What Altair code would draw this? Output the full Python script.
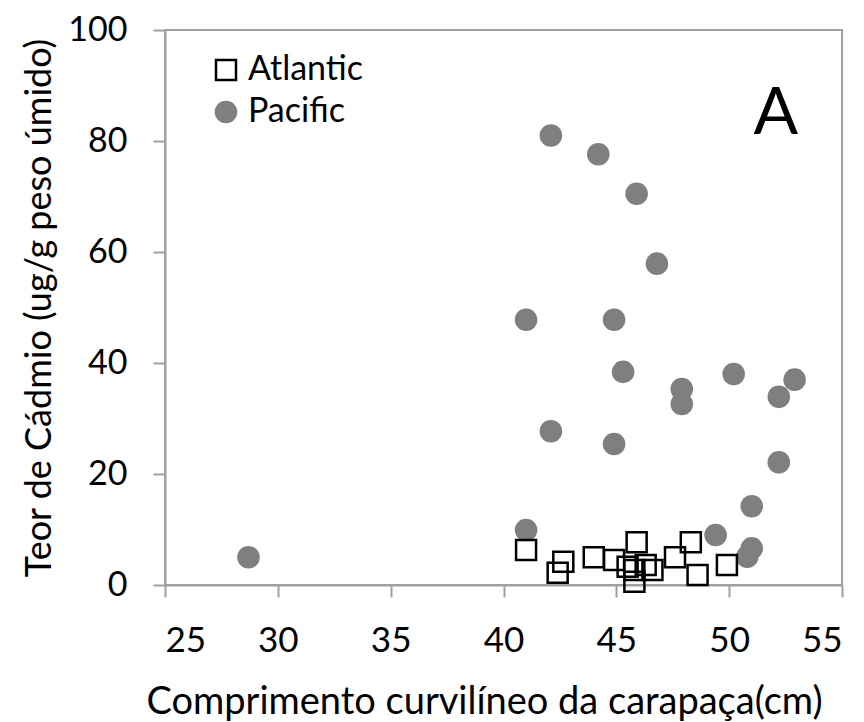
import altair as alt
import pandas as pd

# Pacific (circles)
pac_x = [42.1, 44.2, 45.9, 46.8, 41.0, 44.9, 45.3, 47.9, 47.9, 50.2, 52.9, 52.2,
         42.1, 44.9, 52.2, 51.0, 41.0, 49.4, 51.0, 50.8, 28.7]
pac_y = [81.0, 77.6, 70.5, 57.9, 47.8, 47.8, 38.4, 35.3, 32.6, 38.0, 37.0, 33.9,
         27.7, 25.4, 22.1, 14.2, 9.9, 9.0, 6.6, 5.1, 5.0]
# Atlantic (squares)
atl_x = [41.0, 42.65, 42.4, 44.0, 44.9, 45.9, 45.5, 45.8, 45.8, 46.3, 46.6, 47.6,
         48.3, 48.6, 49.9]
atl_y = [6.3, 4.2, 2.2, 5.0, 4.5, 7.7, 3.3, 2.7, 0.6, 3.6, 2.7, 5.0, 7.7, 1.8, 3.6]

groups = ["Atlantic", "Pacific"]
panel_label = ["A"]
panel_x = [52.07]
panel_y = [81.3]

FONT = "Lato"
AXIS_COLOR = "#a0a0a0"

df = pd.DataFrame({
    "x": pac_x + atl_x,
    "y": pac_y + atl_y,
    "ocean": ["Pacific"] * len(pac_x) + ["Atlantic"] * len(atl_x),
    "order": [0] * len(pac_x) + [1] * len(atl_x),
})

xscale = alt.Scale(domain=[25, 55], nice=False, zero=False)
yscale = alt.Scale(domain=[0, 100], nice=False)

leg = alt.Legend(title=None, orient="none", legendX=44, legendY=23)

points = alt.Chart(df).mark_point(opacity=1, strokeWidth=2.5).encode(
    x=alt.X("x:Q", scale=xscale,
            axis=alt.Axis(title="Comprimento curvilíneo da carapaça(cm)",
                          values=[25, 30, 35, 40, 45, 50, 55],
                          titleX=319, titleFontSize=38, titlePadding=25,
                          labelFontSize=35)),
    y=alt.Y("y:Q", scale=yscale,
            axis=alt.Axis(title="Teor de Cádmio (ug/g peso úmido)",
                          values=[0, 20, 40, 60, 80, 100],
                          titleFontSize=36, titlePadding=9,
                          labelFontSize=34)),
    shape=alt.Shape("ocean:N", scale=alt.Scale(domain=groups, range=["square", "circle"]), legend=leg),
    fill=alt.Fill("ocean:N", scale=alt.Scale(domain=groups, range=["transparent", "#7f7f7f"]), legend=leg),
    stroke=alt.Stroke("ocean:N", scale=alt.Scale(domain=groups, range=["black", "transparent"]), legend=leg),
    size=alt.Size("ocean:N", scale=alt.Scale(domain=groups, range=[400, 510]), legend=leg),
    order=alt.Order("order:Q"),
)

ann = alt.Chart(pd.DataFrame({"t": panel_label, "x": panel_x, "y": panel_y})).mark_text(
    font=FONT, fontSize=66, color="black", align="center", baseline="alphabetic"
).encode(
    x=alt.X("x:Q", scale=xscale),
    y=alt.Y("y:Q", scale=yscale),
    text="t:N",
)

chart = alt.layer(points, ann).properties(
    width=677, height=555,
    autosize=alt.AutoSizeParams(type="none"),
    padding={"left": 157, "top": 22, "right": 14, "bottom": 136},
).configure_view(
    stroke=AXIS_COLOR, strokeWidth=2
).configure_axis(
    grid=False,
    domainColor=AXIS_COLOR, domainWidth=2,
    tickColor=AXIS_COLOR, tickWidth=2, tickSize=12,
    labelFont=FONT, labelColor="black", labelPadding=26,
    titleFont=FONT, titleColor="black", titleFontWeight="normal",
).configure_legend(
    labelFont=FONT, labelFontSize=34, labelColor="black", labelOffset=5,
    rowPadding=8, padding=0, symbolStrokeWidth=2.5,
)

chart.save("out.html", embed_options={"renderer": "svg", "actions": False})
